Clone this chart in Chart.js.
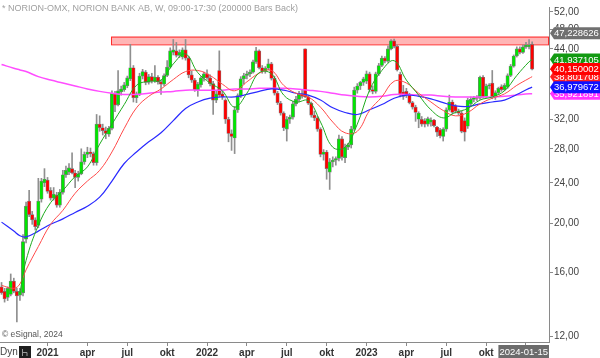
<!DOCTYPE html>
<html>
<head>
<meta charset="utf-8">
<script src="https://cdn.jsdelivr.net/npm/chart.js@4.4.1/dist/chart.umd.min.js"></script>
<style>
  html, body { margin: 0; padding: 0; background: #fff; }
  #wrap { width: 600px; height: 358px; position: relative; }
</style>
</head>
<body>
<div id="wrap"><canvas id="chart" width="600" height="358"></canvas></div>
<script>
// weekly candles, first bar = week of 2020-09-21
const opens = [
  15.0, 14.7, 14.3, 14.5, 15.4, 14.7, 14.45, 14.6, 18.6, 22.1,
  20.8, 20.3, 19.8, 22.3, 24.0, 24.3, 23.2, 22.4, 22.7, 21.7,
  23.0, 24.9, 25.2, 25.6, 25.1, 24.6, 25.0, 26.4, 27.3, 27.6,
  27.4, 26.3, 31.3, 30.8, 30.4, 29.9, 30.7, 35.9, 34.2, 36.2,
  36.6, 37.2, 38.4, 40.4, 35.3, 35.9, 38.9, 39.6, 37.8, 38.8,
  38.0, 38.7, 37.9, 37.5, 39.0, 40.5, 43.3, 43.6, 42.7, 42.4,
  43.8, 42.2, 39.1, 38.2, 36.6, 37.4, 38.6, 39.3, 38.6, 37.6,
  34.9, 39.9, 35.9, 34.9, 32.0, 30.0, 29.4, 33.4, 35.6, 38.4,
  39.0, 39.3, 39.6, 41.5, 43.6, 40.4, 39.8, 40.3, 41.1, 38.5,
  36.0, 34.4, 32.9, 30.6, 32.0, 32.3, 34.3, 35.0, 35.8, 44.0,
  35.4, 34.4, 32.6, 32.2, 30.6, 27.3, 27.6, 25.2, 26.4, 26.6,
  26.8, 29.3, 26.9, 28.2, 28.5, 30.6, 36.5, 37.2, 37.8, 38.0,
  39.3, 36.6, 36.3, 39.3, 40.8, 42.2, 41.6, 44.0, 45.6, 44.5,
  39.2, 36.2, 36.3, 35.7, 34.5, 33.8, 32.0, 32.0, 31.8, 31.3,
  31.6, 31.9, 30.9, 30.5, 29.6, 30.6, 33.4, 34.6, 34.0, 33.2,
  32.9, 31.8, 31.0, 34.3, 35.0, 35.3, 35.2, 38.7, 35.5, 37.2,
  37.7, 35.4, 36.1, 37.1, 36.6, 37.0, 39.0, 40.7, 42.6, 44.0,
  43.3, 44.4, 44.4, 44.9
];
const highs = [
  15.3, 14.9, 15.0, 15.9, 15.6, 14.9, 14.9, 19.0, 22.0, 23.2,
  21.1, 20.5, 24.5, 24.5, 25.6, 24.6, 23.5, 23.5, 23.0, 23.3,
  25.4, 25.9, 26.2, 27.5, 25.4, 25.3, 28.0, 27.6, 28.2, 28.1,
  27.6, 32.7, 32.5, 31.3, 30.9, 31.0, 36.4, 36.3, 39.9, 37.2,
  37.8, 38.9, 44.9, 40.8, 36.2, 39.4, 40.1, 39.9, 39.2, 39.4,
  40.8, 39.0, 38.2, 39.3, 41.7, 44.2, 45.9, 45.3, 43.8, 44.2,
  45.9, 42.5, 39.8, 38.5, 37.8, 38.8, 39.6, 40.0, 39.1, 38.0,
  36.4, 43.6, 36.3, 35.1, 32.3, 30.5, 33.9, 35.9, 38.8, 39.4,
  39.8, 40.0, 41.8, 44.3, 43.8, 40.8, 40.6, 42.0, 41.4, 38.9,
  36.3, 34.7, 33.1, 32.4, 32.6, 34.7, 35.5, 36.3, 36.5, 44.0,
  35.6, 34.6, 33.2, 32.4, 30.8, 27.9, 27.8, 26.8, 27.0, 27.0,
  29.8, 29.6, 28.6, 28.7, 31.0, 37.0, 37.6, 38.0, 38.7, 39.8,
  39.6, 37.2, 39.6, 41.2, 42.6, 42.5, 44.6, 45.9, 46.0, 44.8,
  39.6, 37.3, 36.8, 36.0, 34.7, 34.1, 33.1, 32.4, 32.1, 32.3,
  32.2, 32.0, 31.0, 30.7, 30.8, 33.7, 35.7, 34.9, 34.2, 33.5,
  33.2, 32.2, 35.2, 35.4, 35.5, 35.6, 38.9, 39.0, 37.5, 37.6,
  39.9, 36.4, 37.0, 37.4, 37.6, 39.3, 41.0, 42.8, 44.4, 44.4,
  44.8, 45.3, 45.9, 45.4
];
const lows = [
  14.5, 14.0, 14.1, 14.4, 14.6, 12.8, 14.1, 14.4, 18.3, 20.6,
  19.9, 19.4, 19.6, 22.0, 23.6, 22.9, 22.2, 22.2, 21.5, 21.5,
  22.8, 24.6, 24.9, 25.0, 23.5, 24.2, 24.9, 26.1, 26.9, 27.0,
  26.0, 26.0, 30.3, 29.8, 29.3, 29.6, 30.5, 33.1, 34.0, 35.7,
  36.3, 36.9, 38.1, 34.6, 34.5, 35.6, 38.4, 37.4, 37.5, 37.7,
  37.8, 37.5, 35.8, 37.2, 38.8, 40.3, 42.8, 42.4, 42.3, 42.0,
  41.8, 38.6, 37.8, 36.3, 35.5, 37.0, 38.0, 38.3, 37.2, 32.7,
  34.5, 35.4, 35.0, 31.4, 28.9, 27.8, 27.4, 33.0, 35.3, 37.5,
  38.4, 38.8, 39.4, 41.2, 40.2, 39.4, 39.4, 40.0, 38.2, 35.7,
  34.2, 32.6, 30.4, 29.0, 31.4, 32.0, 34.0, 34.6, 35.2, 35.3,
  34.2, 32.3, 31.8, 30.3, 27.0, 26.6, 24.4, 23.3, 25.8, 26.0,
  26.5, 26.6, 26.3, 27.9, 28.1, 30.4, 36.0, 36.6, 37.3, 37.6,
  36.2, 35.9, 36.0, 39.0, 40.6, 41.3, 41.4, 43.8, 44.2, 39.8,
  35.4, 35.0, 35.3, 34.3, 33.5, 31.7, 30.8, 31.0, 30.9, 31.0,
  31.0, 30.9, 29.6, 29.4, 29.0, 30.3, 33.2, 32.8, 32.9, 32.6,
  30.1, 29.0, 30.7, 34.0, 34.6, 34.8, 35.0, 35.2, 35.2, 36.7,
  35.1, 35.0, 35.8, 36.3, 36.4, 36.8, 38.8, 40.5, 42.4, 43.0,
  43.1, 44.1, 44.0, 40.0
];
const closes = [
  14.6, 14.2, 14.9, 15.4, 14.7, 14.4, 14.7, 18.4, 21.6, 20.8,
  20.3, 19.7, 22.1, 24.2, 24.4, 23.1, 22.4, 22.8, 21.7, 23.0,
  24.9, 25.4, 25.7, 25.1, 24.6, 25.0, 26.4, 27.3, 27.6, 27.4,
  26.3, 31.3, 30.8, 30.4, 30.0, 30.7, 36.0, 34.1, 36.4, 36.7,
  37.4, 38.6, 40.4, 35.3, 35.9, 38.9, 39.7, 37.8, 38.8, 38.0,
  38.7, 37.9, 37.5, 39.0, 40.5, 43.6, 43.8, 42.7, 43.3, 43.8,
  42.2, 39.1, 38.2, 36.6, 37.5, 38.6, 39.3, 38.6, 37.6, 34.9,
  35.9, 35.7, 35.4, 32.0, 30.0, 29.6, 33.4, 35.6, 38.4, 39.0,
  39.3, 39.6, 41.5, 43.6, 40.4, 39.8, 40.3, 41.1, 38.5, 36.0,
  34.5, 32.9, 30.8, 32.0, 32.3, 34.3, 35.0, 35.8, 35.5, 35.4,
  34.4, 32.6, 32.2, 30.6, 27.3, 27.6, 25.6, 26.4, 26.6, 26.8,
  29.3, 27.0, 28.2, 28.5, 30.6, 36.5, 37.2, 37.8, 38.4, 39.3,
  36.6, 36.3, 39.3, 40.8, 42.2, 41.6, 44.0, 45.6, 44.5, 40.0,
  35.7, 35.5, 35.7, 34.5, 33.8, 33.0, 32.9, 31.3, 31.3, 32.1,
  31.9, 31.1, 30.2, 29.7, 30.6, 33.4, 34.6, 33.0, 33.2, 32.9,
  30.3, 30.2, 34.9, 35.0, 35.3, 35.2, 38.7, 35.4, 37.2, 37.4,
  35.4, 36.1, 36.8, 36.6, 37.3, 39.0, 40.7, 42.6, 44.0, 43.3,
  44.4, 44.8, 44.8, 40.15
];
const emptySlots = 5;

// moving averages at these bar indices
const maIdx = [0, 4, 6, 8, 12, 16, 20, 24, 28, 32, 36, 40, 44, 48, 52, 56, 60, 64, 68, 72, 76, 80, 84,
  88, 92, 96, 100, 104, 108, 112, 116, 120, 124, 128, 132, 136, 140, 144, 148, 152, 156, 160, 164, 168, 172, 173];
const maGreen = [null, null, 14.6, 16.9, 19.8, 21.95, 23.2, 24.7, 25.8, 28.6, 31.3, 34.2, 37.3, 38.0, 38.2, 41.1,
  43.0, 39.5, 37.7, 36.4, 33.8, 36.0, 39.5, 39.3, 35.7, 34.6, 34.8, 31.6, 28.2, 28.2, 31.3, 36.5, 39.9, 41.7,
  38.2, 35.7, 33.4, 32.2, 33.0, 33.6, 34.9, 35.4, 36.4, 39.0, 41.5, 41.9];
const maRed = [15.1, 14.9, 15.2, 16.2, 18.0, 19.9, 21.2, 22.9, 24.2, 25.4, 27.6, 30.7, 33.7, 35.5, 36.7, 38.3,
  39.7, 39.9, 39.0, 37.5, 36.4, 37.9, 39.4, 39.9, 37.3, 36.0, 35.4, 33.8, 31.6, 30.1, 30.3, 33.3, 35.4, 38.0,
  37.7, 36.0, 34.6, 33.3, 32.5, 33.0, 34.3, 35.2, 35.9, 37.3, 38.5, 38.8];
const maBlue = [20.1, 19.3, 18.9, 18.8, 19.3, 19.9, 20.4, 21.0, 21.6, 22.5, 24.2, 26.2, 27.6, 28.9, 30.1, 31.8,
  33.6, 34.6, 35.2, 35.4, 35.4, 35.8, 36.3, 36.7, 36.5, 36.0, 35.7, 34.9, 33.7, 33.0, 32.7, 33.4, 34.2, 35.2,
  35.7, 35.5, 35.1, 34.5, 34.0, 33.9, 34.3, 34.6, 34.9, 35.8, 36.8, 37.0];
const maPink = [41.0, 40.3, 40.0, 39.7, 38.8, 38.2, 37.7, 37.2, 36.7, 36.3, 36.0, 35.8, 35.8, 36.0, 36.2, 36.3,
  36.5, 36.5, 36.5, 36.5, 36.7, 36.7, 36.8, 36.8, 36.8, 36.7, 36.5, 36.3, 36.0, 35.7, 35.5, 35.4, 35.5, 35.8,
  35.8, 35.7, 35.7, 35.5, 35.4, 35.4, 35.4, 35.4, 35.5, 35.7, 35.9, 35.9];

const xTickIdx = [15, 28, 41, 54, 67, 80, 93, 106, 119, 132, 145, 158, 171];
const xTickText = ['2021', 'apr', 'jul', 'okt', '2022', 'apr', 'jul', 'okt', '2023', 'apr', 'jul', 'okt', '2024'];
const yTicks = [12, 16, 20, 24, 28, 32, 36, 40, 44, 48, 52];

// resistance zone (start bar, low, high)
const zoneFrom = 35.7;
const zoneLow = 44.9;
const zoneHigh = 46.5;

// right-hand value tags, drawn in this order
const tagValues = [47.228626, 41.937105, 38.801708, 40.150002, 35.921891, 36.979672];
const tagColors = ['#707070', '#129a12', '#ff2020', '#ff0000', '#ff33ff', '#1010ff'];

const lastDate = '2024-01-15';
const titleText = '* NORION-OMX, NORION BANK AB, W, 09:00-17:30 (200000 Bars Back)';

const nSlots = closes.length + emptySlots;
const labels = Array.from({ length: nSlots }, (_, i) => i);

function spread(values) {
  const out = new Array(nSlots).fill(null);
  maIdx.forEach((k, j) => { out[k] = values[j]; });
  return out;
}

const FONT = '"Liberation Sans", Arial, sans-serif';

const overlay = {
  id: 'overlay',
  beforeDatasetsDraw(chart) {
    const { ctx, scales: { x, y }, chartArea } = chart;
    const x0 = x.getPixelForValue(zoneFrom);
    const yt = y.getPixelForValue(zoneHigh);
    const yb = y.getPixelForValue(zoneLow);
    ctx.save();
    ctx.fillStyle = 'rgba(255, 120, 120, 0.55)';
    ctx.fillRect(x0, yt, chartArea.right - x0, yb - yt);
    ctx.strokeStyle = '#ff2a2a';
    ctx.lineWidth = 1;
    ctx.strokeRect(x0 + 0.5, yt + 0.5, chartArea.right - x0 - 1, yb - yt);
    ctx.restore();
  },
  afterDraw(chart) {
    const { ctx, scales: { x, y }, chartArea } = chart;
    ctx.save();
    ctx.textBaseline = 'middle';

    ctx.font = '9px ' + FONT;
    ctx.fillStyle = '#a0a0a0';
    ctx.fillText(titleText, 2, 9);

    ctx.font = '8.5px ' + FONT;
    ctx.fillStyle = '#555';
    ctx.fillText('\u00A9 eSignal, 2024', 2, 335);

    ctx.font = '10px ' + FONT;
    ctx.fillStyle = '#444';
    ctx.fillText('Dyn', 0, 352);
    ctx.fillStyle = '#1e1e1e';
    ctx.fillRect(19, 346, 12, 12);
    ctx.strokeStyle = '#9a9a9a';
    ctx.beginPath();
    ctx.moveTo(22.5, 349); ctx.lineTo(22.5, 356);
    ctx.moveTo(22.5, 352.5); ctx.lineTo(27, 352.5); ctx.lineTo(27, 356);
    ctx.stroke();

    // date box under last bar
    ctx.font = '9.5px ' + FONT;
    const lx = x.getPixelForValue(closes.length - 1);
    const w = ctx.measureText(lastDate).width + 2;
    let bx = lx - w / 2 - 8;
    if (bx + w > chartArea.right) bx = chartArea.right - w;
    ctx.fillStyle = '#6c6c6c';
    ctx.fillRect(bx, 345, w, 13);
    ctx.fillStyle = '#fff';
    ctx.fillText(lastDate, bx + 1, 352);

    // value tags
    ctx.font = '9.5px ' + FONT;
    tagValues.forEach((v, i) => {
      const py = y.getPixelForValue(v);
      const ax = chartArea.right;
      ctx.fillStyle = tagColors[i];
      ctx.beginPath();
      ctx.moveTo(ax + 1, py);
      ctx.lineTo(ax + 5, py - 6);
      ctx.lineTo(600, py - 6);
      ctx.lineTo(600, py + 6);
      ctx.lineTo(ax + 5, py + 6);
      ctx.closePath();
      ctx.fill();
      ctx.fillStyle = '#fff';
      ctx.fillText(v.toFixed(6).replace('.', ','), ax + 5, py + 0.5);
    });
    ctx.restore();
  }
};

new Chart(document.getElementById('chart'), {
  type: 'bar',
  data: {
    labels: labels,
    datasets: [
      { type: 'line', data: spread(maGreen), borderColor: '#1faa1f', borderWidth: 1, pointRadius: 0, spanGaps: true, tension: 0.4, order: 1 },
      { type: 'line', data: spread(maRed), borderColor: '#ff4a4a', borderWidth: 1, pointRadius: 0, spanGaps: true, tension: 0.4, order: 1 },
      { type: 'line', data: spread(maBlue), borderColor: '#2a2aff', borderWidth: 1.2, pointRadius: 0, spanGaps: true, tension: 0.4, order: 1 },
      { type: 'line', data: spread(maPink), borderColor: '#ff4dff', borderWidth: 1.5, pointRadius: 0, spanGaps: true, tension: 0.4, order: 1 },
      {
        data: opens.map((o, i) => [o, closes[i]]),
        backgroundColor: opens.map((o, i) => closes[i] >= o ? '#00e600' : '#ff0000'),
        borderColor: '#7d7d7d', borderWidth: 0.7, borderSkipped: false,
        barThickness: 3.4, grouped: false, order: 2
      },
      {
        data: lows.map((l, i) => [l, highs[i]]),
        backgroundColor: '#8f8f8f',
        barThickness: 1, grouped: false, order: 3
      }
    ]
  },
  options: {
    responsive: false,
    animation: false,
    layout: { padding: 0 },
    plugins: { legend: { display: false }, tooltip: { enabled: false } },
    scales: {
      x: {
        type: 'category',
        offset: true,
        afterBuildTicks: s => { s.ticks = xTickIdx.map(v => ({ value: v })); },
        afterFit: s => { s.height = 16; },
        ticks: {
          autoSkip: false, maxRotation: 0, padding: 1,
          callback: (v, i) => xTickText[i],
          color: '#333', font: { family: FONT, size: 10, weight: 'bold' }
        },
        grid: { drawOnChartArea: false, offset: false, tickLength: 4, color: '#8a8a8a' },
        border: { color: '#8a8a8a' }
      },
      y: {
        type: 'logarithmic',
        position: 'right',
        min: 11.69,
        max: 53.16,
        afterBuildTicks: s => { s.ticks = yTicks.map(v => ({ value: v })); },
        afterFit: s => { s.width = 51; },
        ticks: {
          padding: 1,
          callback: v => Number(v).toFixed(2).replace('.', ','),
          color: '#444', font: { family: FONT, size: 10 }
        },
        grid: { drawOnChartArea: false, tickLength: 4, color: '#8a8a8a' },
        border: { color: '#8a8a8a' }
      }
    }
  },
  plugins: [overlay]
});
</script>
</body>
</html>
